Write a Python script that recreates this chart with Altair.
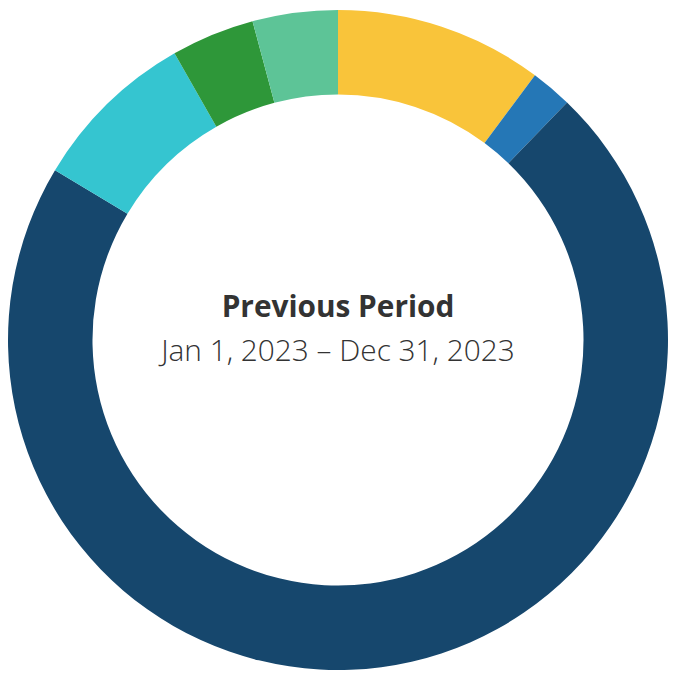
import altair as alt
import pandas as pd

categories = ["Segment 1", "Segment 2", "Segment 3", "Segment 4", "Segment 5", "Segment 6"]
values = [10.18, 2.03, 71.39, 8.15, 4.08, 4.17]
colors = ["#F9C43A", "#2577B6", "#16476D", "#35C5D0", "#2E9739", "#5DC497"]
title_line = "Previous Period"
date_line = "Jan 1, 2023 \u2013 Dec 31, 2023"

df = pd.DataFrame({"category": categories, "value": values, "order": list(range(len(values)))})

W = 664
cx, cy = 332, 332

donut = alt.Chart(df).mark_arc(outerRadius=332, innerRadius=247, stroke=None).encode(
    theta=alt.Theta("value:Q", stack=True),
    order=alt.Order("order:Q"),
    color=alt.Color("category:N", scale=alt.Scale(domain=categories, range=colors), legend=None),
    x=alt.value(cx),
    y=alt.value(cy),
)

t1 = alt.Chart(pd.DataFrame({"t": [title_line]})).mark_text(
    font="Open Sans", fontSize=30, fontWeight="bold", color="#333333", baseline="alphabetic", align="center"
).encode(text="t:N", x=alt.value(cx), y=alt.value(309))

t2 = alt.Chart(pd.DataFrame({"t": [date_line]})).mark_text(
    font="Open Sans", fontSize=30, fontWeight=300, color="#333333", baseline="alphabetic", align="center"
).encode(text="t:N", x=alt.value(cx), y=alt.value(353))

chart = alt.layer(donut, t1, t2).properties(
    width=W, height=W, padding=0, autosize=alt.AutoSizeParams(type="none")
).configure_view(stroke=None)

chart.save("out.html", embed_options={"renderer": "svg", "actions": False})
